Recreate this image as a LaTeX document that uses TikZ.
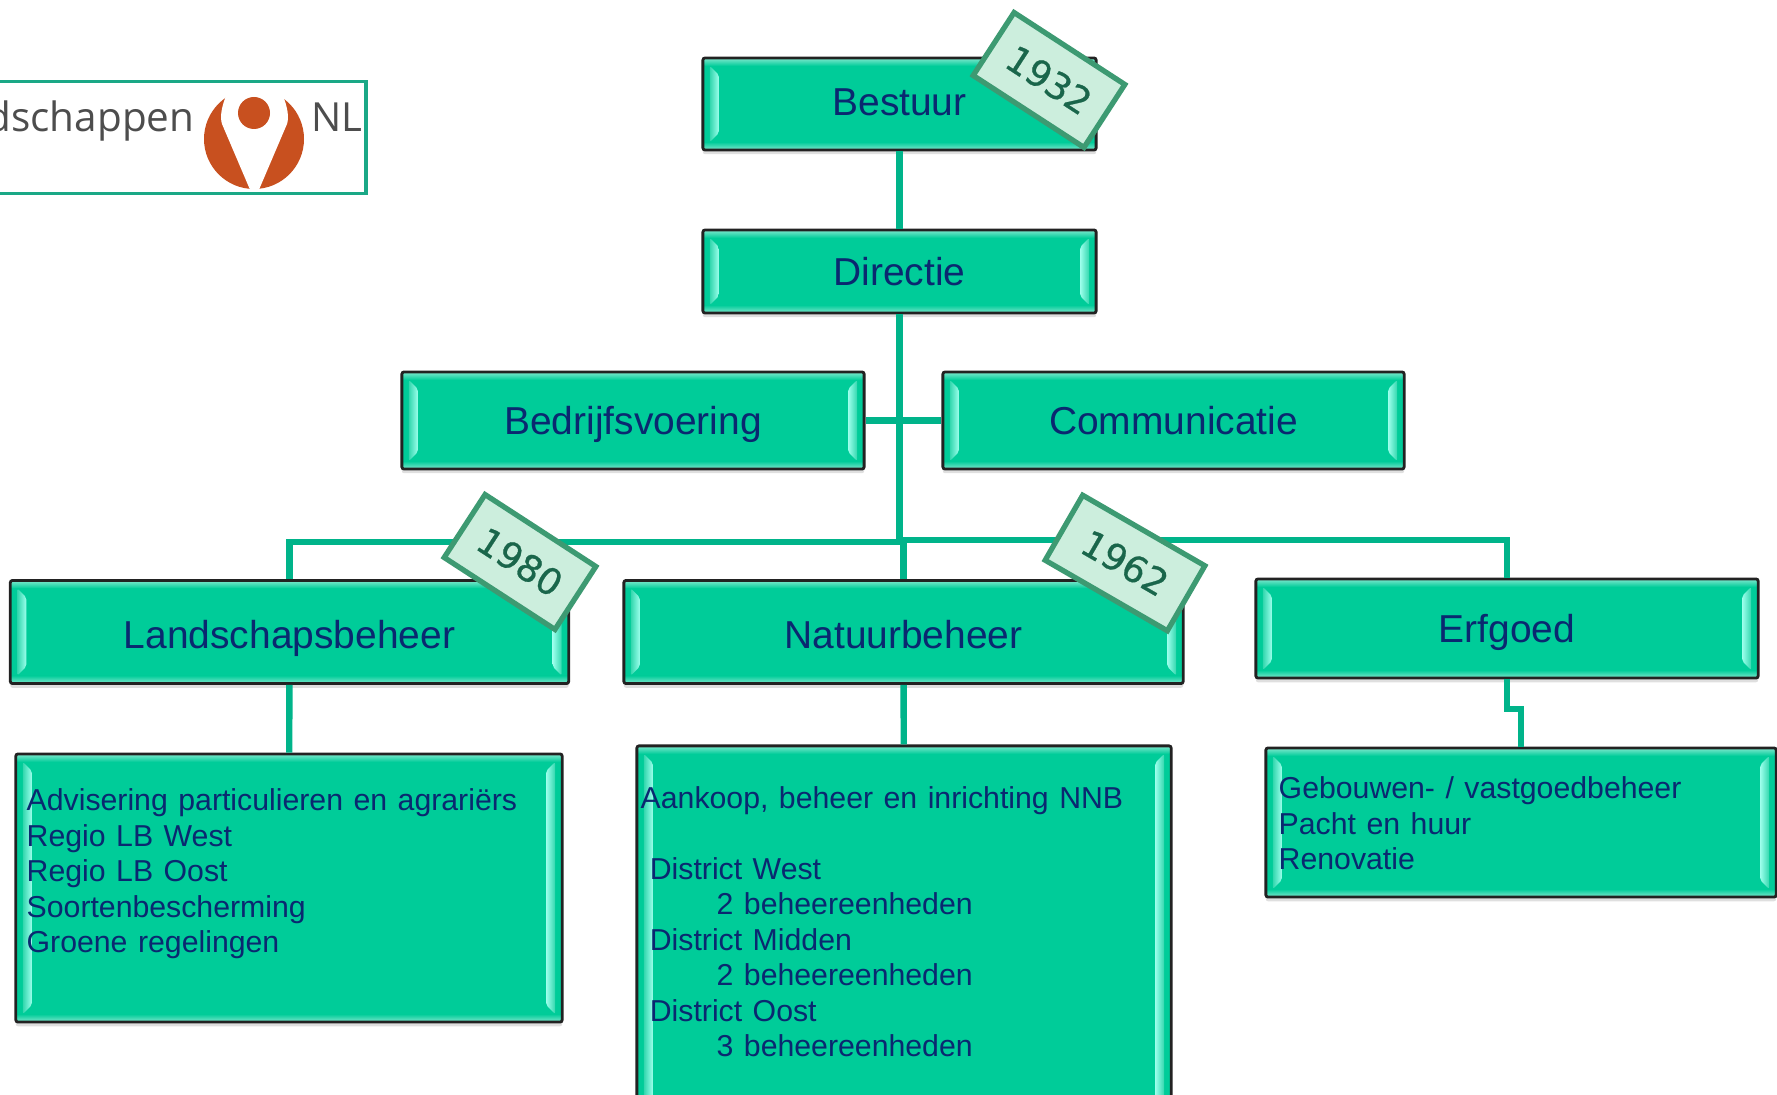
\documentclass[tikz,border=0pt]{standalone}
\usepackage{fontspec}
\setmainfont{Liberation Sans}
\newfontfamily\subfont[WordSpace=1.25]{Liberation Sans}
\newfontfamily\logofont{Open Sans}
\newfontfamily\tagfont[FakeBold=0.7]{DejaVu Sans}
\usepackage{tikz}
\usetikzlibrary{calc,shadows}
\definecolor{boxgreen}{HTML}{00CC99}
\definecolor{boxsoft}{HTML}{7FE8CE}
\definecolor{boxbright}{HTML}{9CFFEC}
\definecolor{boxline}{HTML}{222222}
\definecolor{labelblue}{HTML}{0A2870}
\definecolor{linkgreen}{HTML}{00B48A}
\definecolor{tagfill}{HTML}{CCEEDD}
\definecolor{tagline}{HTML}{3D9A72}
\definecolor{tagtext}{HTML}{1A664B}
\definecolor{logoline}{HTML}{1AA886}
\definecolor{logotext}{HTML}{4D4D4D}
\definecolor{logoorange}{HTML}{C8501F}
\tikzset{
	box/.style={draw=boxline,line width=.8pt,fill=boxgreen,rounded corners=.6pt,inner sep=0pt,text=labelblue,
		drop shadow={shadow xshift=0pt,shadow yshift=-1.2pt,opacity=.25},
		path picture={
			\coordinate (nw) at (path picture bounding box.north west);
			\coordinate (ne) at (path picture bounding box.north east);
			\coordinate (sw) at (path picture bounding box.south west);
			\coordinate (se) at (path picture bounding box.south east);
			\shade[top color=boxsoft,bottom color=boxgreen] (nw) rectangle ($(ne)+(0,8)$);
			\shade[top color=boxgreen,bottom color=boxsoft] ($(sw)+(0,-8)$) rectangle (se);
			\shade[left color=boxgreen!60!boxsoft,right color=boxbright] ($(nw)+(7,8)$) -- ($(nw)+(16,17)$) -- ($(sw)+(16,-17)$) -- ($(sw)+(7,-8)$) -- cycle;
			\shade[left color=boxbright,right color=boxgreen!60!boxsoft] ($(ne)+(-7,8)$) -- ($(ne)+(-16,17)$) -- ($(se)+(-16,-17)$) -- ($(se)+(-7,-8)$) -- cycle;
		}},
	headbox/.style={box,font=\fontsize{11.07}{13}\selectfont,text height=.74em,text depth=0pt},
	subtext/.style={anchor=north west,inner sep=0pt,align=left,text=labelblue,font=\subfont\fontsize{8.6}{10.1}\selectfont},
	link/.style={draw=linkgreen,line width=1.8pt},
	yeartag/.style={draw=tagline,fill=tagfill,line width=1.5pt,inner sep=0pt,minimum width=1.32cm,minimum height=.75cm,text=tagtext,font=\tagfont\fontsize{10.4}{12}\selectfont},
}
\begin{document}
\begin{tikzpicture}[x=0.01cm,y=-0.01cm]
	\path[use as bounding box,clip] (0,0) rectangle (1777,1095);

	%Logo
	\node[draw=logoline,line width=1.1pt,fill=white,minimum width=4.15cm,minimum height=1.12cm] (logo) at (158,137.5) {};
	\fill[logoorange] (254,139) circle (50);
	\fill[white] (226,86) -- (226,96) .. controls (221,108) and (220,118) .. (222,124) -- (251,192) -- (258,192) -- (287,124) .. controls (289,118) and (288,108) .. (283,96) -- (283,86) -- cycle;
	\fill[logoorange] (254,113) circle (16);
	\node[anchor=base east,inner sep=0pt,text=logotext,font=\logofont\fontsize{11.5}{13}\selectfont] (logoname) at (195,132) {dschappen};
	\node[anchor=base west,inner sep=0pt,text=logotext,font=\logofont\fontsize{11.4}{13}\selectfont] (logonl) at (311,132) {NL};

	%Vakken
	\node[headbox,text height=.66em,minimum width=3.93cm,minimum height=.92cm] (bestuur) at (899.5,104) {Bestuur};
	\node[headbox,text height=.8em,minimum width=3.93cm,minimum height=.83cm] (directie) at (899.5,271.5) {Directie};
	\node[headbox,text height=.8em,minimum width=4.62cm,minimum height=.97cm] (bedrijf) at (633,420.5) {Bedrijfsvoering};
	\node[headbox,text height=.8em,minimum width=4.61cm,minimum height=.97cm] (comm) at (1173.5,420.5) {Communicatie};
	\node[headbox,text height=.92em,minimum width=5.58cm,minimum height=1.03cm] (land) at (289.5,632) {Landschapsbeheer};
	\node[headbox,text height=.92em,minimum width=5.59cm,minimum height=1.03cm] (natuur) at (903.5,632) {Natuurbeheer};
	\node[headbox,text height=.8em,minimum width=5.02cm,minimum height=.99cm] (erfgoed) at (1507,628.5) {Erfgoed};
	\node[box,minimum width=5.46cm,minimum height=2.68cm] (landsub) at (289,888) {};
	\node[box,minimum width=5.34cm,minimum height=3.74cm] (natuursub) at (904,933) {};
	\node[box,minimum width=5.10cm,minimum height=1.49cm] (erfsub) at (1521,822.5) {};

	%Knooppunten
	\coordinate (knoopL) at (899.5,542);
	\coordinate (knoopM) at (903.5,540);
	\coordinate (knoopR) at (899.5,540);
	\coordinate (erfknik) at (1521,709);

	%Lijnen
	\draw[link] (bestuur) -- (directie);
	\draw[link] (directie) -- (knoopL);
	\draw[link] (bedrijf) -- (comm);
	\draw[link] (land) |- (knoopL);
	\draw[link] (natuur) -- (knoopM);
	\draw[link] (erfgoed) |- (knoopR);
	\draw[link] (land) -- (landsub);
	\draw[link] (natuur) -- (natuursub);
	\draw[link] (erfgoed) |- (erfknik) -- (erfsub);

	%Teksten
	\node[subtext] (landtext) at (26,788) {Advisering particulieren en agrariërs\\Regio LB West\\Regio LB Oost\\Soortenbescherming\\Groene regelingen};
	\node[subtext] (natuurtext) at (640,785.5) {Aankoop, beheer en inrichting NNB\\[10.1pt]\hspace*{2.6pt}District West\\\hspace*{21.6pt}2 beheereenheden\\\hspace*{2.6pt}District Midden\\\hspace*{21.6pt}2 beheereenheden\\\hspace*{2.6pt}District Oost\\\hspace*{21.6pt}3 beheereenheden};
	\node[subtext] (erftext) at (1278,776) {Gebouwen- / vastgoedbeheer\\Pacht en huur\\Renovatie};

	%Jaartallen
	\node[yeartag,rotate=-33] (jaarA) at (1049,80) {1932};
	\node[yeartag,rotate=-33] (jaarB) at (520,562) {1980};
	\node[yeartag,rotate=-30,minimum width=1.41cm] (jaarC) at (1125,563) {1962};
\end{tikzpicture}
\end{document}
